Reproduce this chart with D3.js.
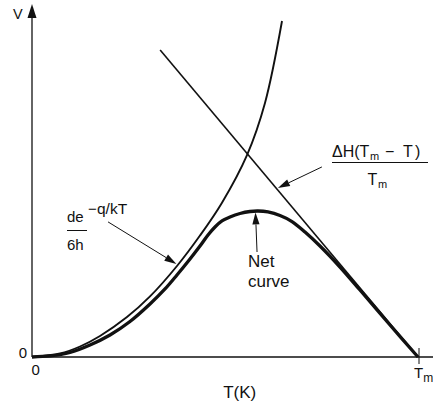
<!DOCTYPE html>
<html><head><meta charset="utf-8">
<script src="https://cdn.jsdelivr.net/npm/d3@7"></script>
<style>
html,body{margin:0;padding:0;background:#fff;}
svg{display:block;}
text{font-family:"Liberation Sans",Arial,Helvetica,sans-serif;fill:#111;}
</style>
</head><body><svg id="c" width="433" height="403"></svg>
<script>
// ---- data (T in units of Tm, V arbitrary 0..100) ----
const expT = [0, 0.0725, 0.1244, 0.1762, 0.2461, 0.3057, 0.3756, 0.4352, 0.4922, 0.5570, 0.6036, 0.6477];
const expV = [0, 1.0, 3.0, 6.0, 11.4, 17.3, 26.0, 34.7, 44.1, 57.7, 72.6, 96.0];
const lineT = [0.332, 1.0];
const lineV = [87.7, 0];
const netT = [0, 0.0466, 0.0984, 0.1503, 0.2021, 0.2539, 0.3057, 0.3446, 0.3756, 0.4093, 0.4352, 0.4560, 0.4741, 0.4922, 0.5130, 0.5389, 0.5648, 0.5855, 0.6114, 0.6425, 0.6736, 0.7073, 0.7461, 0.7979, 0.8497, 0.9275, 1.0];
const netV = [0, 0.29, 1.29, 3.43, 6.29, 10.14, 15.14, 19.43, 23.43, 28.0, 31.71, 34.86, 37.14, 38.86, 40.0, 41.0, 41.57, 41.71, 41.43, 40.43, 38.71, 35.71, 31.71, 25.71, 19.14, 9.14, 0];
const xTickValues = [0, 1];
const xTickLabels = ["0", "T"];
const yTickValues = [0];
const yTickLabels = ["0"];
const xTitle = "T(K)";
const yTitle = "V";

const W = 433, H = 403;
const svg = d3.select("#c");
const x = d3.scaleLinear().domain([0, 1]).range([32, 418]);
const y = d3.scaleLinear().domain([0, 100]).range([357, 7]);
const ink = "#111";

// axes
svg.append("line").attr("x1", x(0)).attr("x2", W).attr("y1", y(0)).attr("y2", y(0))
  .attr("stroke", ink).attr("stroke-width", 1.3);
svg.append("line").attr("x1", x(0)).attr("x2", x(0)).attr("y1", y(0)).attr("y2", y(100) + 8)
  .attr("stroke", ink).attr("stroke-width", 1.3);
svg.append("path")
  .attr("d", `M${x(0)},${y(100) - 3} L${x(0) + 4.5},${y(100) + 11} L${x(0) - 4.5},${y(100) + 11} Z`)
  .attr("fill", ink);

// Tm tick
svg.append("line").attr("x1", x(1) + 1).attr("x2", x(1) + 1).attr("y1", y(0) - 9).attr("y2", y(0) + 7)
  .attr("stroke", ink).attr("stroke-width", 1);

// tick labels
svg.append("text").attr("x", x(0) - 5).attr("y", y(0) + 1).attr("text-anchor", "end")
  .attr("font-size", 15).text(yTickLabels[0]);
svg.append("text").attr("x", x(xTickValues[0]) - 0.5).attr("y", y(0) + 18)
  .attr("font-size", 15).text(xTickLabels[0]);
const tm = svg.append("text").attr("x", x(xTickValues[1]) - 4).attr("y", y(0) + 21).attr("font-size", 15);
tm.append("tspan").text(xTickLabels[1]);
tm.append("tspan").attr("dy", 4).attr("font-size", 12).text("m");

// titles
svg.append("text").attr("x", x(0.538)).attr("y", 398).attr("text-anchor", "middle")
  .attr("font-size", 17).text(xTitle);
svg.append("text").attr("x", x(0) - 19).attr("y", 18.5).attr("font-size", 14.5).text(yTitle);

// curves
const gen = d3.line().x(d => x(d[0])).y(d => y(d[1])).curve(d3.curveCatmullRom.alpha(0.5));
svg.append("path").datum(expT.map((t, i) => [t, expV[i]])).attr("d", gen)
  .attr("fill", "none").attr("stroke", ink).attr("stroke-width", 1.9);
svg.append("path").datum(lineT.map((t, i) => [t, lineV[i]])).attr("d", d3.line().x(d => x(d[0])).y(d => y(d[1])))
  .attr("fill", "none").attr("stroke", ink).attr("stroke-width", 1.6);
svg.append("path").datum(netT.map((t, i) => [t, netV[i]])).attr("d", gen)
  .attr("fill", "none").attr("stroke", ink).attr("stroke-width", 3.3).attr("stroke-linejoin", "round");

// arrows
function arrow(t0, v0, t1, v1) {
  const x0 = x(t0), y0 = y(v0), x1 = x(t1), y1 = y(v1);
  const a = Math.atan2(y1 - y0, x1 - x0), L = 12, hw = 3.6;
  const bx = x1 - L * Math.cos(a), by = y1 - L * Math.sin(a);
  svg.append("line").attr("x1", x0).attr("y1", y0).attr("x2", bx).attr("y2", by)
    .attr("stroke", ink).attr("stroke-width", 1);
  svg.append("path").attr("d",
    `M${x1},${y1} L${bx + hw * Math.sin(a)},${by - hw * Math.cos(a)} L${bx - hw * Math.sin(a)},${by + hw * Math.cos(a)} Z`)
    .attr("fill", ink);
}
arrow(0.197, 38.6, 0.374, 26.6);
arrow(0.751, 54.3, 0.637, 48.3);
arrow(0.583, 30.0, 0.579, 41.3);

// labels
// ΔH(Tm − T) / Tm
svg.append("text").attr("x", 332).attr("y", 156.5).attr("font-size", 16).text("ΔH(T");
svg.append("text").attr("x", 370).attr("y", 159.5).attr("font-size", 11).text("m");
svg.append("text").attr("x", 385).attr("y", 156.5).attr("font-size", 16).text("−");
svg.append("text").attr("x", 403).attr("y", 156.5).attr("font-size", 16).text("T");
svg.append("text").attr("x", 415).attr("y", 156.5).attr("font-size", 16).text(")");
svg.append("line").attr("x1", 332).attr("x2", 428).attr("y1", 162.5).attr("y2", 162.5)
  .attr("stroke", ink).attr("stroke-width", 1);
svg.append("text").attr("x", 367.5).attr("y", 184.5).attr("font-size", 16).text("T");
svg.append("text").attr("x", 378).attr("y", 187.5).attr("font-size", 11).text("m");

// de^-q/kT / 6h
svg.append("text").attr("x", 67).attr("y", 222).attr("font-size", 15).text("de");
svg.append("text").attr("x", 88).attr("y", 214).attr("font-size", 15).text("−");
svg.append("text").attr("x", 97).attr("y", 214).attr("font-size", 15.5).text("q/kT");
svg.append("line").attr("x1", 67).attr("x2", 87).attr("y1", 230.5).attr("y2", 230.5)
  .attr("stroke", ink).attr("stroke-width", 1);
svg.append("text").attr("x", 67).attr("y", 250).attr("font-size", 15).text("6h");

// Net curve
svg.append("text").attr("x", 248).attr("y", 267).attr("font-size", 17).text("Net");
svg.append("text").attr("x", 248).attr("y", 287).attr("font-size", 17).text("curve");
</script></body></html>
